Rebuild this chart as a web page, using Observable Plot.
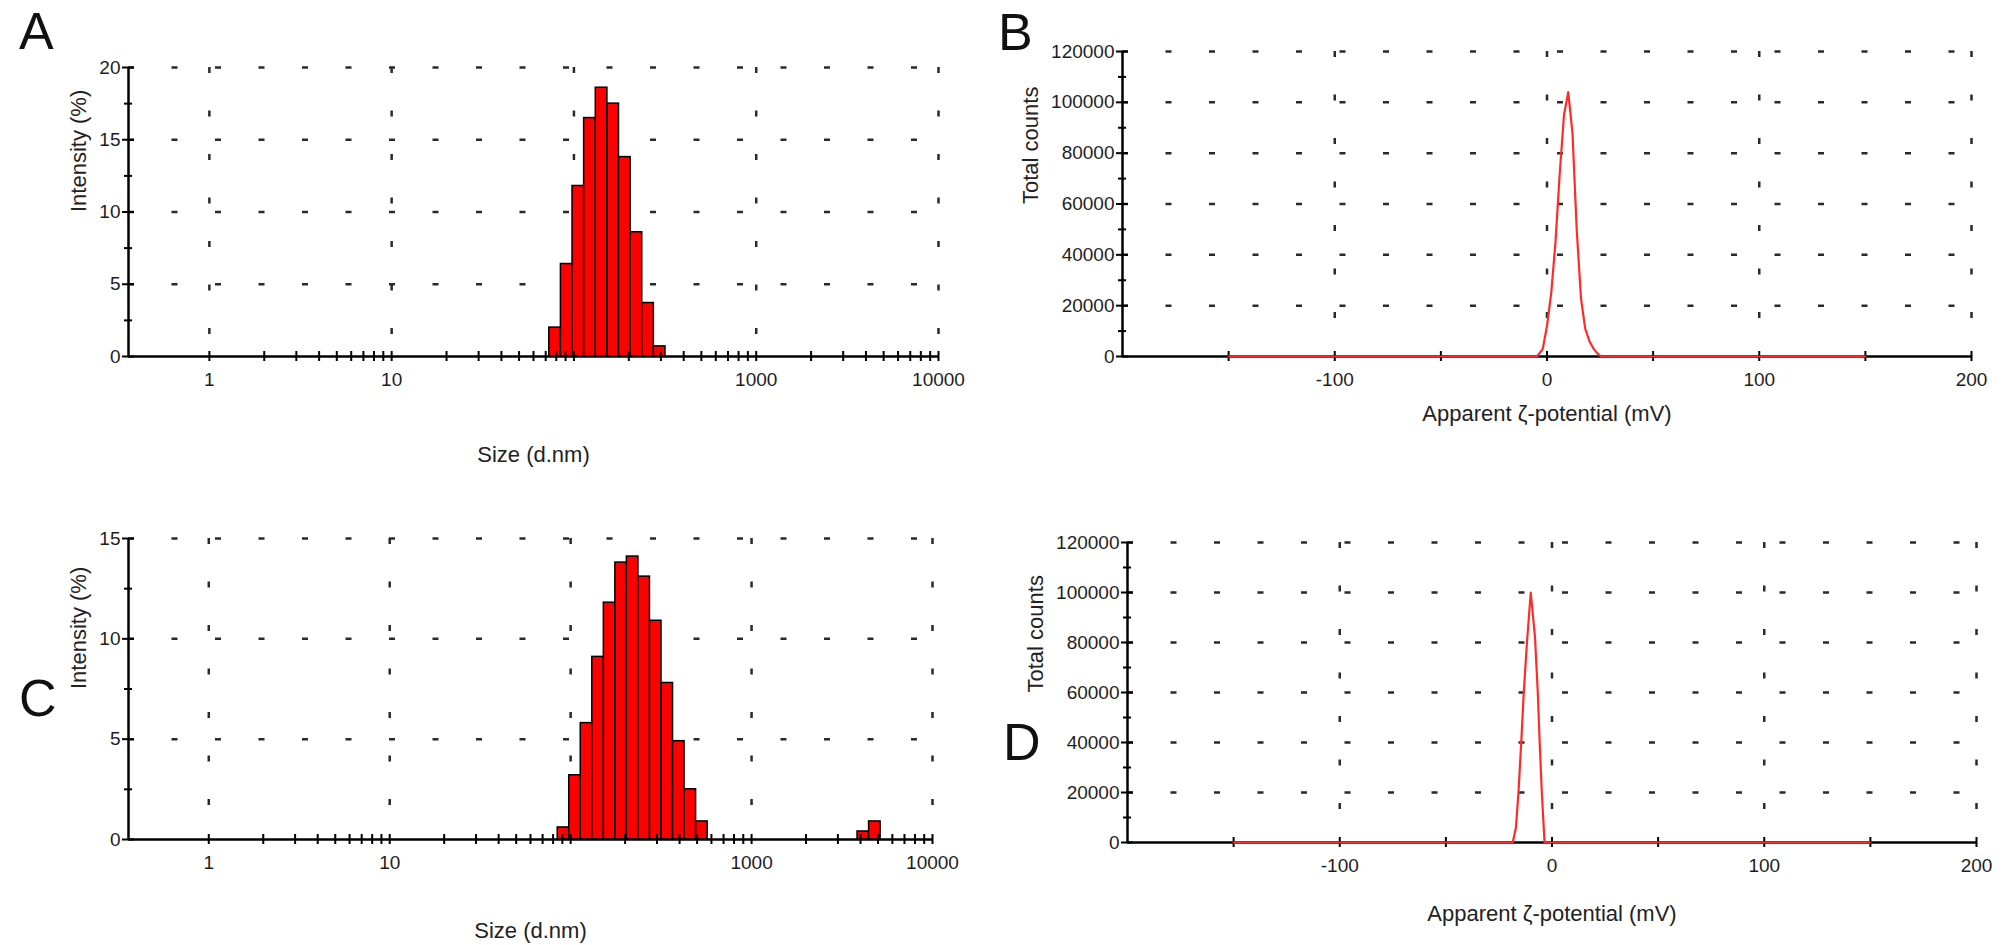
<!DOCTYPE html>
<html>
<head>
<meta charset="utf-8">
<script src="https://cdn.jsdelivr.net/npm/d3@7"></script>
<script src="https://cdn.jsdelivr.net/npm/@observablehq/plot@0.6"></script>
<style>
  body { margin: 0; background: #fff; }
  #fig { position: relative; width: 2008px; height: 945px; overflow: hidden; background: #fff; }
  .panel { position: absolute; }
  .letter { position: absolute; font-family: "Liberation Sans", Arial, sans-serif; font-size: 52px; line-height: 1; color: #111; }
</style>
</head>
<body>
<div id="fig"></div>
<script>
const sizeA = [78.82, 91.28, 105.7, 122.4, 141.8, 164.2, 190.1, 220.2, 255.0, 295.3];
const intensityA = [2.0, 6.4, 11.8, 16.5, 18.6, 17.5, 13.8, 8.6, 3.7, 0.7];

const sizeC = [91.28, 105.7, 122.4, 141.8, 164.2, 190.1, 220.2, 255.0, 295.3, 342.0, 396.1, 458.7, 531.2, 4145, 4801];
const intensityC = [0.6, 3.2, 5.8, 9.1, 11.8, 13.8, 14.1, 13.1, 10.9, 7.8, 4.9, 2.5, 0.9, 0.4, 0.9];

// zeta potential distributions (mV, total counts) for panels B and D
const mvB = [-150, -4.7, -2, 0, 2, 4, 6, 8, 10, 12, 14, 16, 18, 20, 22, 24, 25.5, 150];
const countsB = [0, 0, 3000, 12000, 25000, 45000, 72000, 95000, 104000, 88000, 50000, 23000, 11000, 6000, 3000, 1000, 0, 0];

const mvD = [-150, -18.5, -17, -15.8, -14.5, -13.3, -11.8, -10, -8, -6.7, -5.8, -4.8, -3.5, 150];
const countsD = [0, 0, 6000, 20000, 40000, 60000, 80000, 100000, 82000, 60000, 40000, 20000, 0, 0];

// axes
const sizeDomain = [0.36, 10000];
const sizeGrid = [1, 10, 100, 1000, 10000];
const sizeLabels = [1, 10, 1000, 10000];
const intensityTicksA = [0, 5, 10, 15, 20];
const intensityMinorA = [2.5, 7.5, 12.5, 17.5];
const intensityTicksC = [0, 5, 10, 15];
const intensityMinorC = [2.5, 7.5, 12.5];

const zetaDomain = [-200, 200];
const zetaTicks = [-150, -100, -50, 0, 50, 100, 150, 200];
const zetaLabels = [-100, 0, 100, 200];
const countTicks = [0, 20000, 40000, 60000, 80000, 100000, 120000];
const countMinor = [10000, 30000, 50000, 70000, 90000, 110000];

const tickFont = "'Liberation Sans Narrow', 'Liberation Sans', Arial, sans-serif";
const labelFont = "'Liberation Sans', Arial, sans-serif";
const gridStyle = {stroke: "#2a2a2a", strokeOpacity: 1, strokeWidth: 2.5, strokeDasharray: "6 37.5"};
const axisLine = {stroke: "#000", strokeWidth: 2.5};
const binHalf = Math.sqrt(1.158); // half a size class either side of its centre

function frame(box) {
  return {
    width: box.width, height: box.height,
    marginLeft: box.left, marginRight: box.right,
    marginTop: box.top, marginBottom: box.bottom,
    style: {fontFamily: tickFont, fontSize: "19px", color: "#1e1e1e", background: "white", overflow: "visible"}
  };
}

function crossTicksY(ticks, size) {
  return Plot.axisY(ticks, {tickSize: size, dx: size / 2, stroke: "#000", strokeWidth: 2, tickFormat: () => "", label: null});
}

function sizePanel(sizes, values, yTicks, yMinor, box) {
  const bins = sizes.map((s, i) => ({x1: s / binHalf, x2: s * binHalf, y: values[i]}));
  const logTicks = d3.scaleLog().domain([1, 10000]).ticks();
  return Plot.plot({
    ...frame(box),
    x: {type: "log", domain: sizeDomain},
    y: {domain: [0, yTicks[yTicks.length - 1]]},
    marks: [
      Plot.gridY(yTicks.slice(1), gridStyle),
      Plot.gridX(sizeGrid, gridStyle),
      Plot.rect(bins, {x1: "x1", x2: "x2", y1: 0, y2: "y", fill: "#ff0000", stroke: "#000", strokeWidth: 1.5}),
      Plot.ruleY([0], axisLine),
      Plot.ruleX([sizeDomain[0]], axisLine),
      Plot.axisX(logTicks, {tickSize: 10, dy: -5, stroke: "#000", strokeWidth: 2, tickFormat: () => "", label: null}),
      Plot.axisX(sizeLabels, {tickSize: 0, tickPadding: 16, tickFormat: d => String(d), label: null}),
      crossTicksY(yTicks, 12),
      crossTicksY(yMinor, 8),
      Plot.axisY(yTicks, {tickSize: 0, tickPadding: 8, tickFormat: d => String(d), label: null}),
      Plot.text(["Size (d.nm)"], {text: d => d, frameAnchor: "bottom", dy: box.xLabel, fontSize: 22, fontFamily: labelFont, fill: "#222"}),
      Plot.text(["Intensity (%)"], {text: d => d, frameAnchor: "left", dx: -50, rotate: -90, fontSize: 22, fontFamily: labelFont, fill: "#222"})
    ]
  });
}

function zetaPanel(mv, counts, box) {
  const pts = mv.map((x, i) => ({x, y: counts[i]}));
  return Plot.plot({
    ...frame(box),
    x: {domain: zetaDomain},
    y: {domain: [0, 120000]},
    marks: [
      Plot.gridY(countTicks.slice(1), gridStyle),
      Plot.gridX(zetaLabels, gridStyle),
      Plot.ruleY([0], axisLine),
      Plot.ruleX([zetaDomain[0]], axisLine),
      Plot.axisX(zetaTicks, {tickSize: 10, dy: -5, stroke: "#000", strokeWidth: 2, tickFormat: () => "", label: null}),
      Plot.axisX(zetaLabels, {tickSize: 0, tickPadding: 16, tickFormat: d => String(d), label: null}),
      crossTicksY(countTicks, 12),
      crossTicksY(countMinor, 8),
      Plot.axisY(countTicks, {tickSize: 0, tickPadding: 8, tickFormat: d => String(d), label: null}),
      Plot.line(pts, {x: "x", y: "y", stroke: "#ff2b2b", strokeWidth: 2.2}),
      Plot.text(["Apparent ζ-potential (mV)"], {text: d => d, frameAnchor: "bottom", dy: box.xLabel, fontSize: 22, fontFamily: labelFont, fill: "#222"}),
      Plot.text(["Total counts"], {text: d => d, frameAnchor: "left", dx: -92, rotate: -90, fontSize: 22, fontFamily: labelFont, fill: "#222"})
    ]
  });
}

const fig = document.getElementById("fig");
function place(chart, x, y) {
  const div = document.createElement("div");
  div.className = "panel";
  div.style.left = x + "px";
  div.style.top = y + "px";
  div.append(chart);
  fig.append(div);
}
function letter(t, x, y) {
  const div = document.createElement("div");
  div.className = "letter";
  div.style.left = x + "px";
  div.style.top = y + "px";
  div.textContent = t;
  fig.append(div);
}

place(sizePanel(sizeA, intensityA, intensityTicksA, intensityMinorA,
  {width: 1000, height: 470, left: 128, right: 62, top: 67, bottom: 114, xLabel: 105}), 0, 0);
place(sizePanel(sizeC, intensityC, intensityTicksC, intensityMinorC,
  {width: 1000, height: 475, left: 128, right: 68, top: 68, bottom: 106, xLabel: 98}), 0, 470);
place(zetaPanel(mvB, countsB,
  {width: 1008, height: 470, left: 122, right: 37, top: 51, bottom: 114, xLabel: 64}), 1000, 0);
place(zetaPanel(mvD, countsD,
  {width: 1008, height: 475, left: 127, right: 32, top: 72, bottom: 103, xLabel: 78}), 1000, 470);

letter("A", 19, 5);
letter("B", 998, 6);
letter("C", 19, 672);
letter("D", 1003, 716);
</script>
</body>
</html>
